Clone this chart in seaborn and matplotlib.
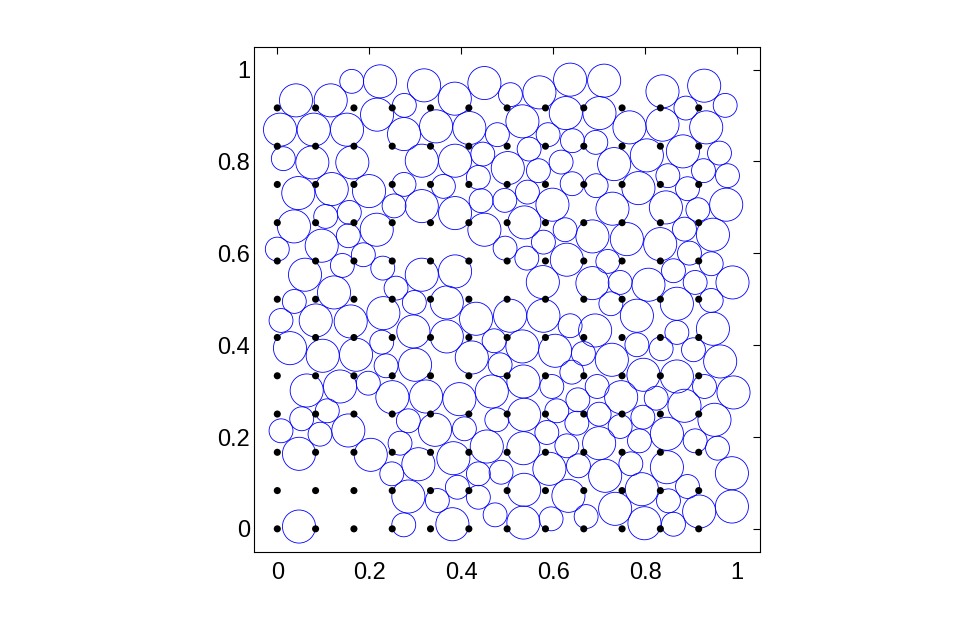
import matplotlib
matplotlib.use("Agg")
import matplotlib.pyplot as plt
import seaborn as sns
import pandas as pd
import numpy as np
from matplotlib.patches import Circle

# grid of sample points (12 x 12)
grid_vals = [0.0, 0.0833, 0.1667, 0.25, 0.3333, 0.4167, 0.5, 0.5833, 0.6667, 0.75, 0.8333, 0.9167]

S, L = 0.026, 0.036
circle_x = [
    0.1619, 0.2235, 0.0407, 0.1162, 0.2170, 0.2764, 0.0059, 0.0792, 0.1517, 0.2757,
    0.0131, 0.0762, 0.1632, 0.0457, 0.1184, 0.1996, 0.2757, 0.2540, 0.3143, 0.1567, 0.1053,
    0.3193, 0.4505, 0.3861, 0.5071, 0.5702, 0.6370, 0.6276, 0.5332, 0.4178, 0.3454,
    0.4788, 0.5891, 0.6420, 0.3867, 0.4470, 0.5014, 0.5478, 0.5680, 0.6174, 0.3143,
    0.3613, 0.4374, 0.6414, 0.5441, 0.4433, 0.4949, 0.5985, 0.3867,
    0.7110, 0.8379, 0.9286, 0.9743, 0.8888, 0.7008, 0.7661, 0.8379, 0.9330, 0.6929,
    0.8039, 0.8823, 0.9619, 0.7327, 0.8496, 0.9271, 0.9793, 0.7856, 0.6936, 0.8923,
    0.7291, 0.8453, 0.9765, 0.9149,
    0.0363, 0.2163, 0.0000, 0.0966, 0.1545, 0.1872, 0.0603, 0.1415, 0.2294, 0.1234,
    0.2583, 0.3143, 0.0370, 0.2981, 0.0081, 0.0836, 0.1597, 0.2307, 0.2960, 0.0276,
    0.0988, 0.1713, 0.2272, 0.2366, 0.2997,
    0.0640, 0.1365, 0.1980, 0.2503, 0.0531, 0.1088, 0.0081, 0.0929, 0.1545, 0.2851,
    0.0472, 0.2033, 0.2670, 0.2490, 0.3069, 0.2851, 0.2751, 0.0472,
    0.4505, 0.5375, 0.6261, 0.4955, 0.5789, 0.5428, 0.6298, 0.3867, 0.5776, 0.3687,
    0.4324, 0.5064, 0.5789, 0.6370, 0.3687, 0.4716, 0.5332, 0.4231, 0.4847, 0.6044,
    0.6659, 0.6407,
    0.6855, 0.7604, 0.8329, 0.8857, 0.9476, 0.8966, 0.7190, 0.9439, 0.8618, 0.6855,
    0.7458, 0.8074, 0.9090, 0.9902, 0.7256, 0.8692, 0.9439, 0.7822, 0.6914, 0.8692,
    0.9476, 0.7822, 0.8350, 0.9053, 0.9634, 0.7277, 0.7965, 0.8692,
    0.9293, 0.9924, 0.7480, 0.8242, 0.8857, 0.9510, 0.7001, 0.7952, 0.7458, 0.8475,
    0.7878, 0.9090, 0.9576, 0.7001, 0.7691, 0.8475, 0.9889, 0.7132, 0.7930, 0.8923,
    0.8509, 0.7349, 0.9177, 0.9889, 0.7987, 0.8618,
    0.3236, 0.3961, 0.4666, 0.5354, 0.5972, 0.6538, 0.5369, 0.4775, 0.6080, 0.6516,
    0.3432, 0.4070, 0.4557, 0.5354, 0.5863, 0.6298, 0.3830, 0.4374, 0.4868, 0.5919,
    0.6551, 0.3917, 0.5369, 0.6333, 0.3482, 0.4374, 0.4738, 0.5354, 0.5956, 0.3809,
    0.6718, 0.6958,
]
circle_y = [
    0.9745, 0.9745, 0.9331, 0.9331, 0.9020, 0.9222, 0.8693, 0.8693, 0.8693, 0.8597,
    0.8061, 0.7980, 0.7980, 0.7312, 0.7399, 0.7355, 0.7501, 0.7033, 0.7028, 0.6891, 0.6804,
    0.9658, 0.9708, 0.9368, 0.9455, 0.9505, 0.9782, 0.9054, 0.8874, 0.8728, 0.8765,
    0.8584, 0.8584, 0.8453, 0.8017, 0.8161, 0.7856, 0.8270, 0.7800, 0.7987, 0.8017,
    0.7458, 0.7654, 0.7516, 0.7333, 0.7146, 0.7153, 0.7059, 0.6876,
    0.9760, 0.9527, 0.9651, 0.9222, 0.9163, 0.9054, 0.8743, 0.8802, 0.8743, 0.8416,
    0.8133, 0.8220, 0.8183, 0.7943, 0.7691, 0.7800, 0.7691, 0.7420, 0.7473, 0.7407,
    0.6972, 0.7000, 0.7059, 0.6950,
    0.6586, 0.6514, 0.6092, 0.6166, 0.6383, 0.5969, 0.5534, 0.5736, 0.5678, 0.5148,
    0.5242, 0.5534, 0.4952, 0.4930, 0.4538, 0.4538, 0.4516, 0.4697, 0.4298, 0.3935,
    0.3769, 0.3791, 0.4065, 0.3551, 0.3573,
    0.3013, 0.3100, 0.3172, 0.2867, 0.2397, 0.2571, 0.2135, 0.2061, 0.2142, 0.2353,
    0.1634, 0.1612, 0.1865, 0.1198, 0.1407, 0.0704, 0.0087, 0.0050,
    0.6514, 0.6673, 0.6514, 0.6113, 0.6244, 0.5895, 0.5861, 0.5606, 0.5373, 0.4930,
    0.4575, 0.4641, 0.4641, 0.4423, 0.4190, 0.4096, 0.3972, 0.3732, 0.3573, 0.3878,
    0.3819, 0.3412,
    0.6368, 0.6309, 0.6200, 0.6527, 0.6405, 0.6004, 0.5824, 0.5773, 0.5621, 0.5351,
    0.5366, 0.5316, 0.5366, 0.5366, 0.4902, 0.4902, 0.4974, 0.4641, 0.4320, 0.4277,
    0.4357, 0.4009, 0.3922, 0.3900, 0.3645, 0.3682, 0.3355, 0.3318,
    0.3100, 0.2970, 0.2867, 0.2845, 0.2680, 0.2375, 0.2497, 0.2431, 0.2229, 0.2070,
    0.1917, 0.1917, 0.1756, 0.1865, 0.1416, 0.1342, 0.1211, 0.1155, 0.0863, 0.0922,
    0.0610, 0.0436, 0.0377, 0.0486, 0.0122, 0.0100,
    0.2882, 0.2824, 0.2991, 0.3209, 0.3100, 0.2810, 0.2484, 0.2375, 0.2571, 0.2301,
    0.2157, 0.2179, 0.1793, 0.1756, 0.2098, 0.1808, 0.1538, 0.1198, 0.1233, 0.1307,
    0.1373, 0.0906, 0.0850, 0.0719, 0.0617, 0.0688, 0.0305, 0.0137, 0.0218, 0.0100,
    0.0268, 0.3100,
]
circle_r = [
    S, L, L, L, L, S, L, L, L, L,
    S, L, L, L, L, L, S, S, L, S, S,
    L, L, L, S, L, L, L, L, L, L,
    S, S, S, L, S, L, S, S, S, L,
    S, S, S, S, S, S, L, L,
    L, L, L, S, S, L, L, L, L, S,
    L, L, S, L, S, S, S, L, S, S,
    L, L, L, S,
    L, L, S, L, S, S, L, S, S, L,
    S, L, S, S, S, L, L, L, L, L,
    L, L, S, S, L,
    L, L, S, L, S, S, S, S, L, S,
    L, L, S, S, L, L, S, L,
    L, L, S, S, S, S, L, L, L, L,
    L, L, L, S, L, S, L, L, S, L,
    S, S,
    L, L, L, S, L, S, S, S, S, L,
    S, L, S, L, S, L, S, L, L, S,
    L, S, S, S, L, L, L, L,
    S, L, L, S, L, L, S, S, S, L,
    S, S, S, L, S, L, L, L, L, S,
    S, L, L, L, L, S,
    L, L, L, L, S, S, L, S, S, S,
    L, S, L, L, S, S, L, S, S, L,
    S, S, L, L, S, S, S, L, S, L,
    S, S,
]

tick_vals = [0, 0.2, 0.4, 0.6, 0.8, 1]
tick_labels = ["0", "0.2", "0.4", "0.6", "0.8", "1"]

sns.set_style("white")
plt.rcParams["font.family"] = ["Liberation Sans", "DejaVu Sans"]

fig = plt.figure(figsize=(9.8, 6.2), dpi=100)
ax = fig.add_axes([0.2595, 0.110, 0.516, 0.8147])

gx, gy = np.meshgrid(grid_vals, grid_vals)
pts = pd.DataFrame({"x": gx.ravel(), "y": gy.ravel()})
sns.scatterplot(data=pts, x="x", y="y", ax=ax, color="black", s=26,
                edgecolor="none", linewidth=0, zorder=3)

for cx, cy, r in zip(circle_x, circle_y, circle_r):
    ax.add_patch(Circle((cx, cy), r, fill=False, edgecolor=(0, 0, 1),
                        linewidth=0.6, zorder=2))

ax.set_xlim(-0.05, 1.05)
ax.set_ylim(-0.05, 1.05)
ax.set_xticks(tick_vals)
ax.set_xticklabels(tick_labels)
ax.set_yticks(tick_vals)
ax.set_yticklabels(tick_labels)
ax.set_xlabel("")
ax.set_ylabel("")
ax.tick_params(direction="in", length=5, width=0.8, top=True, right=True,
               labelsize=17, colors="black")
ax.tick_params(axis="y", pad=3)
ax.tick_params(axis="x", pad=7)
for sp in ax.spines.values():
    sp.set_visible(True)
    sp.set_color("black")
    sp.set_linewidth(0.8)

fig.savefig("out.png", dpi=100)
